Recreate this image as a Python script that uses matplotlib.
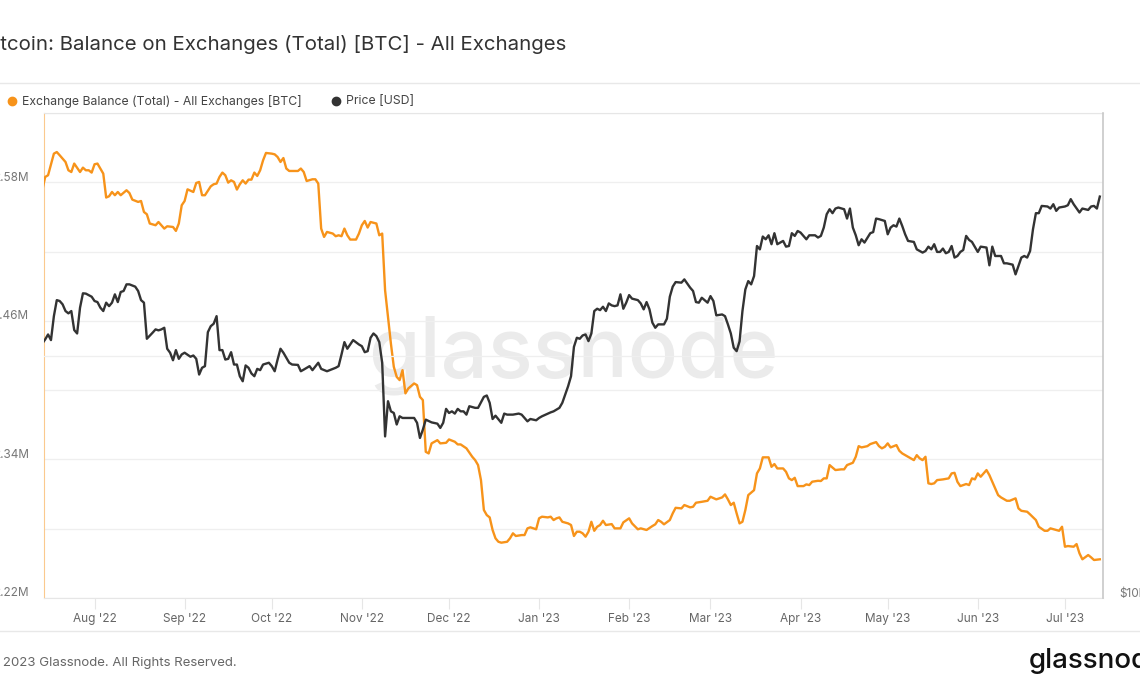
import numpy as np
import pandas as pd
import matplotlib
matplotlib.use("Agg")
import matplotlib.pyplot as plt
from matplotlib.lines import Line2D
from matplotlib.ticker import FixedLocator, NullFormatter
from matplotlib.transforms import ScaledTranslation

plt.rcParams['font.family'] = ['Inter', 'DejaVu Sans']

# Tage ab 2022-08-01
base = pd.Timestamp("2022-08-01")

bal_days = [-18, -17, -16, -14, -13, -12, -10, -9, -8, -7, -5, -4, -3, -2, -1, 0, 1, 3, 4, 5,
            6, 7, 8, 9, 11, 12, 13, 15, 16, 17, 18, 19, 21, 22, 24, 25, 27, 28, 29, 30,
            31, 32, 34, 35, 36, 37, 38, 40, 41, 42, 43, 44, 45, 46, 47, 48, 49, 50, 51, 52,
            53, 54, 55, 56, 57, 58, 59, 61, 62, 63, 64, 65, 66, 67, 70, 71, 72, 73, 75, 76,
            77, 78, 79, 80, 82, 83, 84, 85, 86, 87, 88, 90, 91, 92, 93, 94, 95, 97, 98, 99,
            100, 101, 102, 103, 104, 105, 106, 107, 108, 110, 111, 112, 113, 114, 115, 116, 118, 119, 121, 122,
            124, 125, 126, 128, 130, 131, 132, 133, 134, 135, 136, 137, 138, 139, 140, 142, 143, 144, 145, 147,
            148, 149, 150, 152, 153, 154, 156, 157, 158, 159, 160, 161, 163, 164, 165, 166, 167, 168, 169, 170,
            171, 172, 173, 174, 175, 176, 178, 179, 181, 182, 184, 185, 187, 188, 190, 192, 193, 194, 195, 196,
            198, 199, 200, 202, 203, 205, 206, 207, 209, 211, 212, 214, 216, 217, 218, 219, 220, 221, 222, 223,
            224, 225, 227, 228, 229, 230, 232, 233, 234, 235, 237, 238, 239, 240, 241, 242, 244, 245, 246, 247,
            249, 250, 251, 252, 253, 255, 257, 258, 259, 261, 262, 263, 264, 266, 267, 269, 270, 271, 272, 273,
            274, 276, 277, 278, 280, 281, 282, 283, 284, 285, 286, 287, 288, 289, 290, 292, 294, 295, 296, 297,
            298, 300, 301, 302, 303, 304, 305, 307, 308, 309, 311, 312, 314, 315, 317, 318, 319, 321, 322, 324,
            325, 327, 328, 329, 331, 332, 333, 334, 335, 337, 338, 339, 340, 342, 343, 344, 346]
# Bestand in Mio. BTC
bal_btc = [2.5731, 2.5846, 2.5861, 2.6048, 2.6062, 2.6034, 2.5976, 2.5904, 2.5889, 2.5962,
           2.5889, 2.5927, 2.5904, 2.5904, 2.5884, 2.5956, 2.5962, 2.5875, 2.5668, 2.5679,
           2.5716, 2.5688, 2.5716, 2.5688, 2.5731, 2.5707, 2.5650, 2.5630, 2.5638, 2.5543,
           2.5523, 2.5443, 2.5428, 2.5456, 2.5399, 2.5419, 2.5413, 2.5379, 2.5443, 2.5601,
           2.5638, 2.5739, 2.5716, 2.5794, 2.5803, 2.5688, 2.5688, 2.5765, 2.5783, 2.5789,
           2.5846, 2.5884, 2.5861, 2.5797, 2.5817, 2.5803, 2.5737, 2.5783, 2.5817, 2.5789,
           2.5823, 2.5823, 2.5884, 2.5855, 2.5904, 2.5990, 2.6054, 2.6048, 2.6042, 2.6019,
           2.5976, 2.6010, 2.5919, 2.5898, 2.5898, 2.5919, 2.5889, 2.5811, 2.5826, 2.5826,
           2.5789, 2.5399, 2.5327, 2.5370, 2.5356, 2.5333, 2.5341, 2.5333, 2.5399, 2.5341,
           2.5304, 2.5304, 2.5356, 2.5428, 2.5465, 2.5408, 2.5456, 2.5443, 2.5341, 2.5356,
           2.4865, 2.4634, 2.4404, 2.4202, 2.4115, 2.4087, 2.4173, 2.3972, 2.4015, 2.4058,
           2.4043, 2.3942, 2.3914, 2.3466, 2.3452, 2.3539, 2.3567, 2.3539, 2.3544, 2.3573,
           2.3553, 2.3530, 2.3530, 2.3496, 2.3423, 2.3394, 2.3351, 2.3221, 2.2962, 2.2918,
           2.2898, 2.2789, 2.2717, 2.2687, 2.2679, 2.2687, 2.2717, 2.2760, 2.2737, 2.2745,
           2.2745, 2.2803, 2.2812, 2.2795, 2.2890, 2.2904, 2.2898, 2.2904, 2.2875, 2.2890,
           2.2898, 2.2860, 2.2846, 2.2832, 2.2737, 2.2774, 2.2774, 2.2760, 2.2731, 2.2774,
           2.2860, 2.2782, 2.2817, 2.2832, 2.2869, 2.2832, 2.2840, 2.2803, 2.2803, 2.2855,
           2.2890, 2.2846, 2.2795, 2.2803, 2.2789, 2.2823, 2.2838, 2.2875, 2.2860, 2.2838,
           2.2875, 2.2933, 2.2981, 2.2976, 2.3005, 2.2985, 2.2990, 2.3025, 2.3033, 2.3042,
           2.3077, 2.3054, 2.3071, 2.3097, 2.3054, 2.3005, 2.3025, 2.2933, 2.2846, 2.2860,
           2.2962, 2.3091, 2.3134, 2.3279, 2.3322, 2.3418, 2.3418, 2.3336, 2.3360, 2.3322,
           2.3322, 2.3293, 2.3236, 2.3221, 2.3241, 2.3169, 2.3169, 2.3184, 2.3178, 2.3207,
           2.3215, 2.3213, 2.3236, 2.3236, 2.3351, 2.3308, 2.3314, 2.3314, 2.3351, 2.3371,
           2.3423, 2.3515, 2.3504, 2.3515, 2.3533, 2.3550, 2.3515, 2.3496, 2.3509, 2.3539,
           2.3504, 2.3524, 2.3475, 2.3452, 2.3423, 2.3409, 2.3394, 2.3437, 2.3409, 2.3394,
           2.3423, 2.3193, 2.3187, 2.3193, 2.3221, 2.3227, 2.3236, 2.3279, 2.3284, 2.3206,
           2.3169, 2.3187, 2.3178, 2.3236, 2.3227, 2.3279, 2.3250, 2.3308, 2.3264, 2.3206,
           2.3091, 2.3071, 2.3042, 2.3042, 2.3063, 2.2976, 2.2955, 2.2947, 2.2924, 2.2875,
           2.2817, 2.2782, 2.2782, 2.2803, 2.2789, 2.2782, 2.2817, 2.2644, 2.2650, 2.2644,
           2.2667, 2.2587, 2.2535, 2.2572, 2.2552, 2.2529, 2.2535]

price_days = [-18, -17, -16, -15, -14, -13, -12, -11, -10, -9, -8, -7, -6, -5, -4, -3, -1, 0, 1, 2,
              3, 4, 5, 6, 7, 8, 9, 10, 11, 12, 14, 15, 16, 17, 18, 20, 21, 22, 23, 24,
              25, 26, 27, 28, 29, 30, 31, 33, 34, 35, 36, 37, 38, 39, 40, 41, 42, 43, 44, 45,
              46, 47, 48, 49, 50, 51, 52, 53, 54, 55, 56, 57, 58, 60, 61, 62, 63, 64, 65, 67,
              68, 70, 71, 72, 74, 75, 77, 78, 80, 82, 83, 84, 85, 86, 87, 88, 89, 91, 92, 93,
              94, 95, 96, 97, 98, 99, 100, 101, 102, 103, 104, 105, 106, 108, 110, 111, 112, 113, 114, 116,
              118, 119, 120, 121, 122, 123, 124, 125, 126, 127, 128, 129, 131, 132, 134, 135, 136, 137, 138, 140,
              141, 142, 144, 146, 147, 149, 150, 152, 153, 154, 156, 157, 158, 160, 161, 162, 163, 164, 165, 166,
              167, 168, 169, 170, 171, 172, 173, 174, 175, 176, 177, 178, 179, 180, 181, 182, 183, 184, 185, 187,
              188, 189, 190, 191, 192, 193, 194, 196, 197, 198, 199, 200, 202, 203, 205, 206, 207, 208, 209, 211,
              212, 213, 214, 216, 217, 218, 219, 220, 221, 222, 223, 224, 225, 226, 227, 228, 229, 230, 231, 232,
              233, 234, 235, 236, 237, 238, 239, 240, 241, 242, 243, 244, 245, 246, 248, 249, 250, 251, 252, 253,
              254, 255, 256, 258, 259, 260, 261, 262, 263, 264, 265, 267, 268, 269, 270, 272, 273, 274, 275, 276,
              277, 278, 279, 280, 282, 283, 284, 285, 286, 287, 288, 289, 290, 291, 292, 293, 294, 295, 296, 297,
              298, 299, 300, 301, 302, 304, 305, 307, 308, 309, 310, 312, 313, 314, 316, 317, 318, 319, 320, 321,
              322, 323, 324, 325, 326, 328, 329, 330, 331, 332, 334, 335, 336, 337, 339, 340, 342, 343, 344, 345,
              346]
price_usd = [20700, 20940, 21240, 20900, 22380, 23430, 23370, 23150, 22710, 22560,
             22710, 21510, 21300, 22930, 23890, 23870, 23660, 23370, 23300, 22930,
             22710, 23260, 23030, 23260, 23820, 23300, 23980, 24050, 24510, 24510,
             24350, 24050, 23430, 23260, 20980, 21350, 21550, 21490, 21550, 21650,
             20390, 20160, 19730, 20310, 19810, 20060, 20160, 19930, 20000, 19810,
             18940, 19310, 19400, 21380, 21750, 21900, 22380, 20310, 20310, 19770,
             19810, 20190, 19490, 19490, 18850, 18580, 19440, 19310, 19000, 18850,
             19250, 19180, 19490, 19590, 19400, 19120, 19770, 20390, 20160, 19590,
             19490, 19470, 19120, 19210, 19400, 19180, 19590, 19250, 19120, 19250,
             19310, 19400, 20060, 20780, 20390, 20640, 20900, 20640, 20540, 20190,
             20250, 21040, 21300, 21140, 20780, 19590, 15870, 17550, 17050, 16970,
             16420, 16810, 16730, 16730, 16730, 16500, 15800, 16180, 16650, 16520,
             16460, 16260, 16500, 17170, 16970, 17050, 16940, 17170, 17050, 17050,
             16890, 17300, 17220, 17220, 17770, 17840, 17470, 16680, 16840, 16500,
             16940, 16890, 16890, 16940, 16890, 16570, 16680, 16620, 16730, 16810,
             16940, 17000, 17050, 17220, 17470, 17890, 18320, 18850, 20500, 21040,
             20980, 21180, 21240, 20840, 21300, 22710, 22860, 22770, 22990, 22710,
             23210, 23080, 23030, 23080, 23820, 22860, 23260, 23770, 23530, 23430,
             23210, 22820, 23300, 22820, 21970, 21650, 21860, 21860, 22220, 23660,
             24350, 24670, 24630, 24860, 24280, 24050, 23300, 23260, 23590, 23260,
             23700, 23370, 22430, 22490, 22380, 21860, 21300, 20450, 20250, 20820,
             22710, 24160, 24740, 24510, 25100, 27350, 27090, 28100, 27880, 28200,
             27490, 28370, 27490, 27620, 27750, 27300, 27350, 28370, 28150, 28550,
             28420, 28150, 27880, 28200, 28200, 28020, 28150, 28830, 29950, 30380,
             30040, 30440, 30530, 30380, 29580, 30440, 28830, 28200, 27410, 27880,
             27620, 28370, 28460, 29580, 29530, 29380, 28280, 28830, 29020, 28910,
             29580, 28960, 28280, 27750, 27670, 27090, 26960, 26840, 26960, 27300,
             27090, 27490, 26890, 26890, 27150, 26790, 26890, 27350, 26460, 26580,
             26890, 27040, 28150, 27830, 27670, 26890, 27300, 27230, 25880, 27300,
             26580, 26580, 26030, 26030, 25930, 25220, 25830, 26460, 26580, 26460,
             26960, 28690, 30040, 30040, 30670, 30620, 30440, 30820, 30240, 30530,
             30620, 30730, 31270, 30820, 30100, 30440, 30320, 30620, 30670, 30440,
             31500]

left_ticks = [2.22, 2.34, 2.46, 2.58]
left_minor = [2.28, 2.40, 2.52, 2.64]
month_ticks = ["2022-08-01", "2022-09-01", "2022-10-01", "2022-11-01", "2022-12-01", "2023-01-01",
               "2023-02-01", "2023-03-01", "2023-04-01", "2023-05-01", "2023-06-01", "2023-07-01"]
month_labels = ["Aug '22", "Sep '22", "Oct '22", "Nov '22", "Dec '22", "Jan '23",
                "Feb '23", "Mar '23", "Apr '23", "May '23", "Jun '23", "Jul '23"]

ORANGE = "#f7931a"
DARK = "#333333"
GRID = "#efefef"

bal_dates = base + pd.to_timedelta(bal_days, unit="D")
price_dates = base + pd.to_timedelta(price_days, unit="D")
bal_vals = np.array(bal_btc) * 1e6

W, H = 1140, 694
fig = plt.figure(figsize=(W / 100, H / 100), dpi=100)
ax = fig.add_axes([44 / W, 1 - 598 / H, (1103 - 44) / W, (598 - 113) / H])
ax2 = ax.twinx()

# Wasserzeichen
ax.text(0.5, 0.5, "glassnode", transform=ax.transAxes, fontsize=60, color="#ebebeb",
        ha="center", va="center", fontweight="medium", zorder=0)

ax.plot(bal_dates, bal_vals, color=ORANGE, lw=1.7, zorder=3, solid_joinstyle="round")
ax2.plot(price_dates, price_usd, color=DARK, lw=1.7, zorder=3, solid_joinstyle="round")

ax.set_xlim(base + pd.Timedelta(days=-17.4), base + pd.Timedelta(days=347.1))
ax.set_ylim(2.22e6, 2.64e6)
ax.set_yticks([v * 1e6 for v in left_ticks])
ax.set_yticklabels([f"{v:.2f}M" for v in left_ticks])
ax.yaxis.set_minor_locator(FixedLocator([v * 1e6 for v in left_minor]))
ax.grid(True, axis="y", which="both", color=GRID, lw=0.9)
ax.set_axisbelow(True)

ax2.set_yscale("log")
ax2.set_ylim(1e4, 4e4)
ax2.yaxis.set_major_locator(FixedLocator([1e4]))
ax2.set_yticklabels(["$10k"])
ax2.yaxis.set_minor_locator(FixedLocator([2e4]))
ax2.yaxis.set_minor_formatter(NullFormatter())
ax2.grid(True, axis="y", which="minor", color=GRID, lw=0.9)

ax.set_xticks(pd.to_datetime(month_ticks))
ax.set_xticklabels(month_labels)

ax.tick_params(axis="x", length=8, width=0.8, color="#e6e6e6", pad=3, labelsize=8.5, labelcolor="#666666")
ax.tick_params(axis="y", which="both", length=0, pad=11, labelsize=8.5, labelcolor="#777777")
ax2.tick_params(axis="y", which="both", length=0, pad=12, labelsize=8.5, labelcolor="#777777")

shift = ScaledTranslation(0, 0.06, fig.dpi_scale_trans)
for t in ax.yaxis.get_major_ticks() + ax2.yaxis.get_major_ticks():
    t.label1.set_transform(t.label1.get_transform() + shift)
    t.label2.set_transform(t.label2.get_transform() + shift)

for s in ["top", "bottom"]:
    ax.spines[s].set_color("#e6e6e6")
ax.spines["left"].set_color("#fbc98e")
ax.spines["right"].set_visible(False)
for s in ["top", "bottom", "left"]:
    ax2.spines[s].set_visible(False)
ax2.spines["right"].set_color("#c8c8c8")
ax2.spines["right"].set_linewidth(1.2)

# Kopf, Legende, Fuss
fig.text(-18 / W, 1 - 44 / H, "Bitcoin: Balance on Exchanges (Total) [BTC] - All Exchanges",
         fontsize=14.7, color="#333333", ha="left", va="center")
for yy in [83, 631]:
    fig.add_artist(Line2D([0, 1], [1 - yy / H, 1 - yy / H], transform=fig.transFigure,
                          color="#e8e8e8", lw=1))

fig.add_artist(Line2D([12 / W], [1 - 101 / H], transform=fig.transFigure, marker="o",
                      markersize=6, color=ORANGE, lw=0))
fig.text(22 / W, 1 - 101 / H, "Exchange Balance (Total) - All Exchanges [BTC]", fontsize=8.8,
         color="#444444", ha="left", va="center")
fig.add_artist(Line2D([336 / W], [1 - 101 / H], transform=fig.transFigure, marker="o",
                      markersize=6, color=DARK, lw=0))
fig.text(346 / W, 1 - 101 / H, "Price [USD]", fontsize=8.8, color="#444444", ha="left", va="center")

fig.text(-13 / W, 1 - 663 / H, "© 2023 Glassnode. All Rights Reserved.", fontsize=9.5,
         color="#666666", ha="left", va="center")
fig.text(1029 / W, 1 - 661 / H, "glassnode", fontsize=20, color="#111111", ha="left",
         va="center", fontweight="medium")

fig.savefig("out.png", dpi=100)
